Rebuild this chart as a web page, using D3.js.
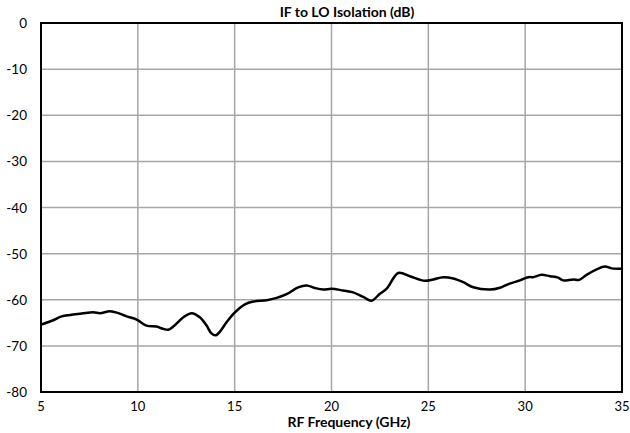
<!DOCTYPE html>
<html>
<head>
<meta charset="utf-8">
<script src="https://cdn.jsdelivr.net/npm/d3@7"></script>
<style>
  body { margin: 0; background: #fff; }
  text { font-family: Lato, "Open Sans", sans-serif; }
</style>
</head>
<body>
<div id="chart"></div>
<script>
const freqs = [5, 5.6, 6.07, 6.5, 7.1, 7.7, 8.05, 8.56, 9.0, 9.42, 9.94, 10.45, 10.97, 11.3, 11.57,
  11.83, 12.35, 12.78, 13.2, 13.55, 13.8, 14.03, 14.24, 14.58, 15.0, 15.53, 15.96, 16.65, 17.17,
  17.68, 18.28, 18.72, 19.1, 19.57, 20.0, 20.6, 21.12, 21.64, 22.07, 22.5, 22.85, 23.45, 24.05,
  24.82, 25.25, 25.77, 26.29, 26.8, 27.32, 28.18, 28.7, 29.2, 29.73, 30.16, 30.4, 30.85, 31.28,
  31.7, 31.96, 32.48, 32.79, 33.17, 33.69, 34.12, 34.47, 35];
const isolation = [-65.4, -64.5, -63.6, -63.3, -63.0, -62.7, -62.9, -62.5, -62.9, -63.6, -64.3, -65.6,
  -65.8, -66.3, -66.5, -65.8, -63.8, -62.9, -63.8, -65.6, -67.3, -67.7, -66.9, -64.9, -62.8, -61.0,
  -60.4, -60.1, -59.6, -58.8, -57.3, -56.9, -57.4, -57.8, -57.6, -58.0, -58.4, -59.4, -60.2, -58.7,
  -57.6, -54.2, -54.9, -55.9, -55.6, -55.1, -55.4, -56.2, -57.3, -57.8, -57.4, -56.5, -55.8, -55.1,
  -55.1, -54.6, -54.9, -55.2, -55.8, -55.6, -55.7, -54.6, -53.4, -52.8, -53.2, -53.3];
const xTicks = [5, 10, 15, 20, 25, 30, 35];
const yTicks = [0, -10, -20, -30, -40, -50, -60, -70, -80];

const width = 630, height = 433;
const margin = { top: 23, right: 8, bottom: 41, left: 41 };

const svg = d3.select('#chart').append('svg')
  .attr('width', width)
  .attr('height', height);

const x = d3.scaleLinear().domain([5, 35]).range([margin.left, width - margin.right]);
const y = d3.scaleLinear().domain([-80, 0]).range([height - margin.bottom, margin.top]);

// grid
svg.append('g')
  .selectAll('line')
  .data(xTicks)
  .enter().append('line')
  .attr('x1', d => x(d)).attr('x2', d => x(d))
  .attr('y1', y(0)).attr('y2', y(-80))
  .attr('stroke', '#a6a6a6').attr('stroke-width', 1.5);

svg.append('g')
  .selectAll('line')
  .data(yTicks)
  .enter().append('line')
  .attr('x1', x(5)).attr('x2', x(35))
  .attr('y1', d => y(d)).attr('y2', d => y(d))
  .attr('stroke', '#a6a6a6').attr('stroke-width', 1.5);

// frame
svg.append('rect')
  .attr('x', x(5)).attr('y', y(0))
  .attr('width', x(35) - x(5)).attr('height', y(-80) - y(0))
  .attr('fill', 'none').attr('stroke', '#000').attr('stroke-width', 2);

// tick labels
svg.append('g')
  .selectAll('text')
  .data(yTicks)
  .enter().append('text')
  .attr('x', 27).attr('y', d => y(d) + 5)
  .attr('text-anchor', 'end')
  .attr('font-size', 13.5)
  .text(d => d);

svg.append('g')
  .selectAll('text')
  .data(xTicks)
  .enter().append('text')
  .attr('x', d => x(d)).attr('y', 410.5)
  .attr('text-anchor', 'middle')
  .attr('font-size', 13)
  .text(d => d);

// titles
svg.append('text')
  .attr('x', 347).attr('y', 17)
  .attr('text-anchor', 'middle')
  .attr('font-size', 14).attr('font-weight', 'bold')
  .text('IF to LO Isolation (dB)');

svg.append('text')
  .attr('x', 349).attr('y', 427)
  .attr('text-anchor', 'middle')
  .attr('font-size', 14).attr('font-weight', 'bold')
  .text('RF Frequency (GHz)');

// curve
const line = d3.line()
  .x((d, i) => x(freqs[i]))
  .y(d => y(d))
  .curve(d3.curveCatmullRom.alpha(0.5));

svg.append('path')
  .attr('d', line(isolation))
  .attr('fill', 'none')
  .attr('stroke', '#000')
  .attr('stroke-width', 2.5)
  .attr('stroke-linejoin', 'round');
</script>
</body>
</html>
